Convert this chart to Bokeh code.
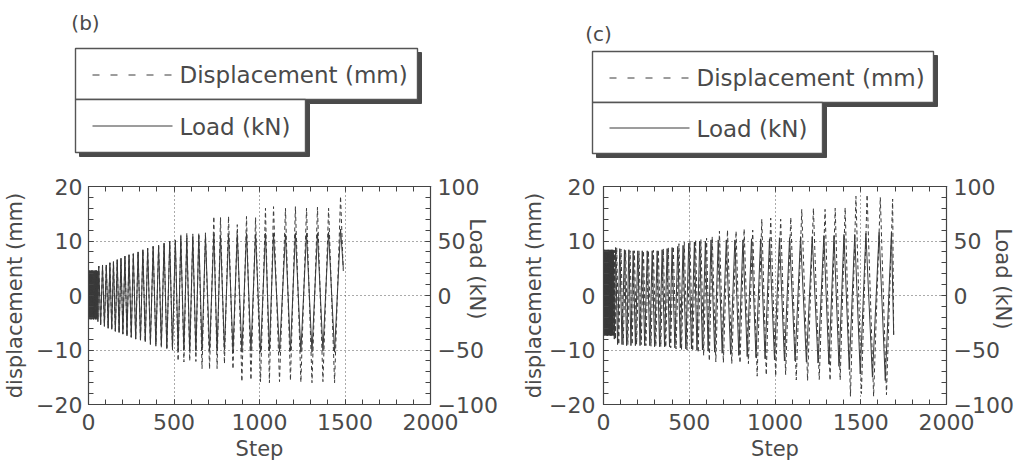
from bokeh.plotting import figure
from bokeh.models import Range1d, LinearAxis, FixedTicker
from bokeh.layouts import column, row
from bokeh.embed import file_html
from bokeh.resources import INLINE
from bokeh.core.properties import value

# ---------------- data: panel (b) ----------------
b_peak_step = [2, 7, 12, 17, 22, 27, 32, 37, 42, 47, 52,
               60, 82, 104, 125, 146, 168, 190, 213, 237, 262, 290, 318, 346, 378, 410, 442,
               475, 508, 540, 575, 610, 645, 684, 733, 772, 819, 870, 924, 977, 1035, 1082,
               1152, 1210, 1275, 1339, 1404, 1474]
b_trough_step = [4.5, 9.5, 14.5, 19.5, 24.5, 29.5, 34.5, 39.5, 44.5, 49.5, 55,
                 71, 93, 115, 136, 157, 179, 201, 225, 250, 276, 304, 332, 362, 394, 426, 458,
                 491, 524, 558, 592, 628, 664, 708, 752, 795, 845, 897, 950, 1006, 1058, 1117,
                 1181, 1242, 1307, 1371, 1439]
b_load_max = [22, 23, 22, 23, 22, 23, 22, 23, 22, 23, 22,
              27, 28, 28, 30, 31, 33, 34, 36, 37, 38, 40, 42, 43, 45, 46, 48, 50, 51, 52, 53,
              54, 55, 55, 56, 55, 56, 56, 57, 56, 57, 57, 56, 57, 57, 57, 58, 61]
b_load_min = [-21, -22, -21, -22, -21, -22, -21, -22, -21, -22, -24,
              -27, -28, -30, -31, -33, -34, -35, -37, -38, -40, -41, -42, -44, -45, -46, -48,
              -49, -50, -50, -51, -51, -50, -51, -51, -50, -51, -52, -51, -52, -51, -52, -51,
              -52, -52, -51, -52]
b_disp_max = [4.6, 4.5, 4.6, 4.5, 4.6, 4.5, 4.6, 4.5, 4.6, 4.5, 4.6,
              5.4, 5.5, 5.7, 6.0, 6.2, 6.5, 6.8, 7.2, 7.5, 7.7, 8.0, 8.4, 8.7, 9.0, 9.3, 9.6,
              10.0, 10.0, 11.3, 11.5, 11.3, 11.5, 11.5, 14.5, 14.3, 14.5, 13.0, 14.5, 14.3,
              16.0, 16.3, 16.0, 16.3, 16.0, 16.2, 16.0, 18.2]
b_disp_min = [-4.2, -4.3, -4.2, -4.3, -4.2, -4.3, -4.2, -4.3, -4.2, -4.3, -4.4,
              -5.5, -5.7, -6.0, -6.2, -6.5, -6.8, -7.1, -7.4, -7.7, -8.0, -8.3, -8.6, -9.0,
              -9.3, -9.6, -10.0, -10.0, -12.0, -12.2, -12.0, -12.1, -13.4, -13.5, -13.4,
              -12.5, -13.5, -15.8, -15.5, -15.8, -16.0, -15.8, -15.6, -15.9, -16.0, -15.8, -16.0]
b_start = (0, 0.0, 0.0)          # step, disp (mm), load (kN)
b_end = (1490, 4.5, 25.0)
b_disp_lag = 0

# ---------------- data: panel (c) ----------------
c_peak_step = [2, 6, 10, 14, 18, 22, 26, 30, 34, 38, 42, 46, 50, 54, 58,
               70, 95, 122, 148, 173, 200, 226, 255, 284, 313, 342, 371, 400, 433, 464, 497,
               530, 561, 594, 627, 669, 716, 766, 813, 863, 916, 968, 1026, 1085, 1149, 1217,
               1285, 1344, 1402, 1465, 1530, 1607, 1679]
c_trough_step = [4, 8, 12, 16, 20, 24, 28, 32, 36, 40, 44, 48, 52, 56, 63,
                 82, 108, 135, 160, 186, 213, 240, 270, 298, 327, 356, 385, 416, 448, 480, 513,
                 545, 577, 610, 648, 692, 741, 789, 838, 889, 942, 997, 1055, 1117, 1183, 1251,
                 1314, 1373, 1433, 1497, 1568, 1643]
c_load_max = [41, 42, 41, 42, 41, 42, 41, 42, 41, 42, 41, 42, 41, 42, 41,
              44, 43, 42, 42, 41, 41, 41, 41, 41, 41, 42, 43, 44, 45, 46, 48, 49, 50, 50, 51,
              51, 51, 51, 51, 52, 52, 52, 53, 53, 54, 54, 55, 55, 56, 56, 57, 58, 58]
c_load_min = [-36, -37, -36, -37, -36, -37, -36, -37, -36, -37, -36, -37, -36, -37, -40,
              -45, -45, -46, -46, -46, -46, -46, -46, -47, -47, -47, -47, -48, -48, -49, -49,
              -50, -50, -51, -52, -53, -54, -55, -56, -57, -58, -59, -60, -60, -61, -62, -63,
              -65, -68, -72, -75, -78]
c_disp_max = [8.3, 8.2, 8.3, 8.2, 8.3, 8.2, 8.3, 8.2, 8.3, 8.2, 8.3, 8.2, 8.3, 8.2, 8.3,
              8.8, 8.5, 8.3, 8.2, 8.2, 8.2, 8.2, 8.2, 8.3, 8.4, 8.6, 8.8, 9.0, 9.5, 9.8, 10.0,
              10.2, 10.3, 10.5, 10.8, 11.8, 12.0, 11.8, 12.2, 12.0, 14.0, 14.2, 14.0, 14.3,
              15.8, 16.0, 15.8, 16.0, 16.1, 18.2, 18.5, 18.0, 17.7]
c_disp_min = [-7.2, -7.1, -7.2, -7.1, -7.2, -7.1, -7.2, -7.1, -7.2, -7.1, -7.2, -7.1, -7.2, -7.1, -8.0,
              -9.0, -9.0, -9.0, -9.0, -9.0, -9.0, -9.2, -9.3, -9.3, -9.4, -9.5, -9.6, -9.8,
              -10.0, -10.0, -10.2, -10.5, -11.0, -12.0, -12.2, -12.3, -12.5, -12.4, -12.5,
              -14.8, -14.6, -14.8, -14.5, -15.5, -15.6, -15.4, -15.6, -15.5, -18.5, -18.0,
              -18.5, -18.2]
c_start = (0, 0.0, 0.0)
c_end = (1692, -7.5, -36.0)
c_disp_lag = 7

x_ticks = [0, 500, 1000, 1500, 2000]
disp_ticks = [-20, -10, 0, 10, 20]
load_ticks = [-100, -50, 0, 50, 100]

FONT = "DejaVu Sans"
TXT = "#4a4a4a"
INK = "#3a3a3a"
TOP_H = 166
NB = "\u00a0"


def zigzag(peak_steps, trough_steps, peaks, troughs, start, end, lag=0):
    xs, ys = [start[0]], [start[1]]
    for i in range(len(peak_steps)):
        xs.append(peak_steps[i] + lag)
        ys.append(peaks[i])
        if i < len(trough_steps):
            xs.append(trough_steps[i] + lag)
            ys.append(troughs[i])
    xs.append(end[0])
    ys.append(end[1])
    return xs, ys


def style_axis(ax, labels=True, size="22px"):
    ax.major_tick_in = 5
    ax.major_tick_out = 0
    ax.minor_tick_in = 5
    ax.minor_tick_out = 0
    ax.axis_line_color = "#444444"
    ax.major_tick_line_color = "#444444"
    ax.minor_tick_line_color = "#444444"
    ax.major_label_text_font = FONT
    ax.major_label_text_color = TXT
    ax.major_label_text_font_size = size if labels else "1px"
    ax.axis_label_text_font = FONT
    ax.axis_label_text_font_size = "21px"
    ax.axis_label_text_font_style = "normal"
    ax.axis_label_text_color = TXT


def panel(width, bl, br, steps, lag, label_std_left, tick_std_left, right_std, lift):
    pk, tr, lmax, lmin, dmax, dmin, st, en = steps
    p = figure(width=width, height=470 - TOP_H, x_range=Range1d(0, 2000), y_range=Range1d(-20, 20),
               output_backend="svg", toolbar_location=None,
               min_border_left=bl, min_border_right=br, min_border_top=20, min_border_bottom=66,
               x_axis_label="Step", y_axis_label="displacement (mm)")
    p.extra_y_ranges = {"load": Range1d(-100, 100)}
    p.outline_line_color = "#444444"
    p.outline_line_width = 1.2
    p.background_fill_color = "white"
    p.border_fill_color = "white"

    xt = FixedTicker(ticks=x_ticks, minor_ticks=list(range(0, 2001, 100)))
    yt = FixedTicker(ticks=disp_ticks, minor_ticks=list(range(-20, 21, 2)))
    lt = FixedTicker(ticks=load_ticks, minor_ticks=list(range(-100, 101, 10)))

    p.xaxis.ticker = xt
    p.yaxis.ticker = yt
    style_axis(p.xaxis[0])
    style_axis(p.yaxis[0])
    p.xaxis.major_label_standoff = 9
    p.xaxis.axis_label_standoff = 4
    p.yaxis.major_label_standoff = tick_std_left
    p.yaxis.axis_label_standoff = label_std_left

    top = LinearAxis(ticker=xt)
    style_axis(top, labels=False)
    top.major_label_standoff = 0
    top.axis_label_standoff = 0
    p.add_layout(top, "above")

    right = LinearAxis(y_range_name="load", ticker=lt, axis_label="Load (kN)" + NB * lift)
    style_axis(right)
    right.major_label_standoff = 7
    right.axis_label_standoff = right_std
    p.add_layout(right, "right")

    p.xgrid.ticker = FixedTicker(ticks=[500, 1000, 1500])
    p.ygrid.ticker = FixedTicker(ticks=[-10, 0, 10])
    for g in (p.xgrid, p.ygrid):
        g.grid_line_color = "#555555"
        g.grid_line_dash = "1 3"
        g.grid_line_width = 1

    lx, ly = zigzag(pk, tr, lmax, lmin, (st[0], st[2]), (en[0], en[2]))
    dx, dy = zigzag(pk, tr, dmax, dmin, (st[0], st[1]), (en[0], en[1]), lag)
    p.line(lx, ly, y_range_name="load", line_color=INK, line_width=1.0)
    p.line(dx, dy, line_color=INK, line_width=1.0, line_dash="4 3")
    return p


W_B = 519
pb = panel(W_B, 88, W_B - 430,
           (b_peak_step, b_trough_step, b_load_max, b_load_min, b_disp_max, b_disp_min, b_start, b_end),
           b_disp_lag, 6, 6, -36, 8)
pc = panel(1022 - W_B, 603 - W_B, 1022 - 946,
           (c_peak_step, c_trough_step, c_load_max, c_load_min, c_disp_max, c_disp_min, c_start, c_end),
           c_disp_lag, 0, 8, -26, 5)

# ---------------- legend strip (page coordinates) ----------------
t = figure(width=1022, height=TOP_H, x_range=Range1d(0, 1022), y_range=Range1d(TOP_H, 0),
           output_backend="svg", toolbar_location=None, min_border=0,
           x_axis_type=None, y_axis_type=None)
t.grid.visible = False
t.outline_line_color = None


def legend_box(x0, y0, x1, x2, ym, y1):
    s = 4
    t.patch([x0 + s, x1 + s, x1 + s, x2 + s, x2 + s, x0 + s],
            [y0 + s, y0 + s, ym + s, ym + s, y1 + s, y1 + s],
            fill_color="#4a4a4a", line_color="#4a4a4a")
    t.quad(left=[x0], right=[x1], top=[y0], bottom=[ym], fill_color="white",
           line_color="#555555", line_width=1.4)
    t.quad(left=[x0], right=[x2], top=[ym], bottom=[y1], fill_color="white",
           line_color="#555555", line_width=1.4)
    t.line([x0 + 17, x0 + 97], [(y0 + ym) / 2 + 1] * 2, line_color=INK, line_width=1.0, line_dash="7 11")
    t.line([x0 + 17, x0 + 97], [(ym + y1) / 2] * 2, line_color=INK, line_width=1.0)
    t.text(x=[x0 + 104, x0 + 104], y=[(y0 + ym) / 2 + 1, (ym + y1) / 2 + 1],
           text=["Displacement (mm)", "Load (kN)"], text_font=value(FONT),
           text_font_size=value("23px"), text_color=TXT, text_baseline="middle", text_align="left")


legend_box(75, 48, 417, 305, 99, 152)
legend_box(592, 51, 933, 822, 102, 153)
t.text(x=[85, 598], y=[22, 33], text=["(b)", "(c)"], text_font=value(FONT),
       text_font_size=value("20px"), text_color=TXT, text_baseline="middle", text_align="center")

layout = column(t, row(pb, pc))
open("out.html", "w").write(file_html(layout, INLINE))
